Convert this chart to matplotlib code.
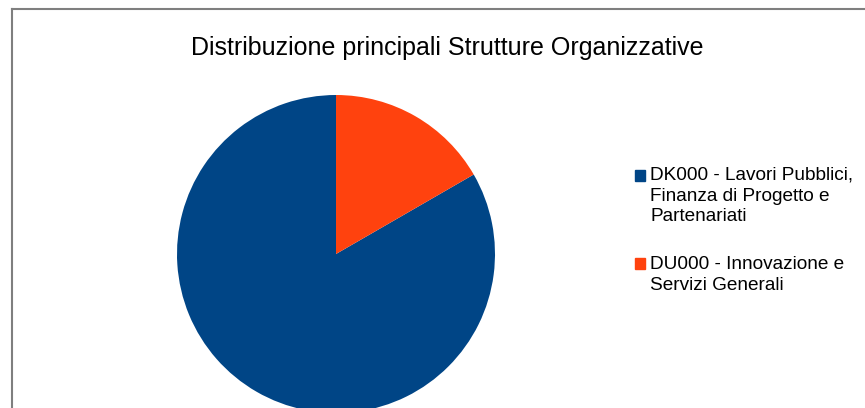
import matplotlib.pyplot as plt
from matplotlib.lines import Line2D

plt.rcParams['font.family'] = ['Liberation Sans', 'DejaVu Sans']

# dati
strutture = ["DK000 - Lavori Pubblici,\nFinanza di Progetto e\nPartenariati",
             "DU000 - Innovazione e\nServizi Generali"]
valori = [5, 1]
colori = ["#004586", "#ff420e"]

W, H = 865, 408
fig = plt.figure(figsize=(W / 100, H / 100), dpi=100)

# cornice (tagliata a destra e in basso)
fig.add_artist(Line2D([12 / W, 12 / W], [0, 1 - 9 / H], color="#7f7f7f", lw=1.5))
fig.add_artist(Line2D([12 / W, 1], [1 - 9 / H, 1 - 9 / H], color="#7f7f7f", lw=1.5))

fig.text(447 / W, 1 - 48 / H, "Distribuzione principali Strutture Organizzative",
         ha="center", va="center", fontsize=18)

# torta: centro (336, 254), raggio 159 px
cx, cy, r = 336, 254, 159
ax = fig.add_axes([(cx - r) / W, (H - cy - r) / H, 2 * r / W, 2 * r / H])
ax.pie(valori, colors=colori, startangle=90, counterclock=True,
       wedgeprops=dict(linewidth=0))
ax.set_xlim(-1, 1)
ax.set_ylim(-1, 1)
ax.set_aspect("equal")

# legenda
y_quadrati = [175.5, 263.5]
y_testi = [167, 256]
for nome, col, yq, yt in zip(strutture, colori, y_quadrati, y_testi):
    fig.patches.append(plt.Rectangle((635 / W, 1 - (yq + 5.5) / H), 10 / W, 11 / H,
                                     color=col, transform=fig.transFigure))
    fig.text(650 / W, 1 - yt / H, nome, ha="left", va="top",
             fontsize=13.7, linespacing=1.27)

fig.savefig("out.png", dpi=100)
